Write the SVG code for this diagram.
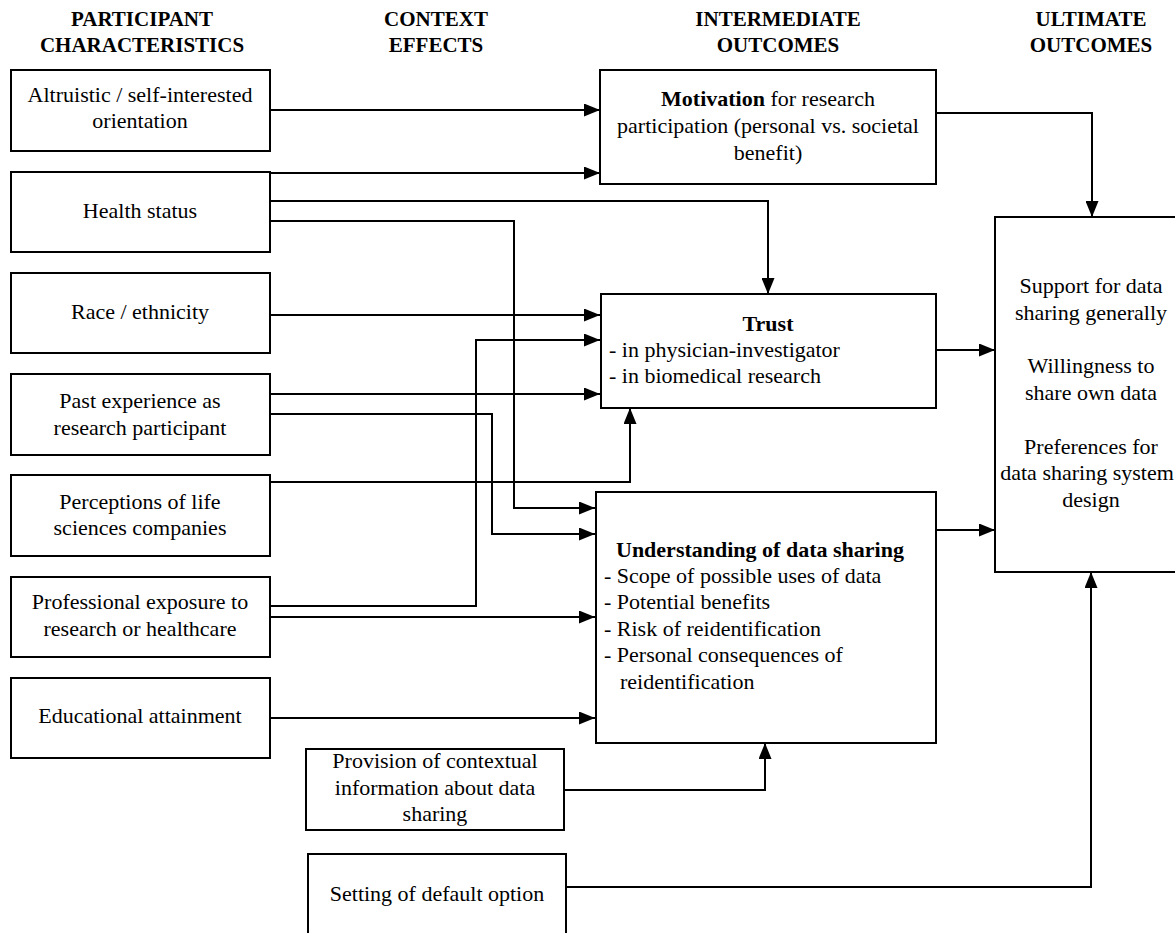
<svg xmlns="http://www.w3.org/2000/svg" width="1175" height="933" viewBox="0 0 1175 933">
<style>
text{font-family:"Liberation Serif","Times New Roman",serif;font-size:22px;fill:#000}
.h{font-weight:bold;font-size:21px;text-anchor:middle}
.c{text-anchor:middle}
.b{font-weight:bold}
rect{fill:#fff;stroke:#000;stroke-width:2}
#connectors path{fill:none;stroke:#000;stroke-width:2}
</style>
<defs>
<marker id="ah" markerUnits="userSpaceOnUse" markerWidth="16" markerHeight="13" refX="16" refY="6.5" orient="auto">
<path d="M0,0 L16,6.5 L0,13 z" fill="#000"/>
</marker>
</defs>
<rect x="0" y="0" width="1175" height="933" style="stroke:none;fill:#fff"/>
<g id="headers">
<text class="h" x="142" y="26">PARTICIPANT</text>
<text class="h" x="142" y="52">CHARACTERISTICS</text>
<text class="h" x="436" y="26">CONTEXT</text>
<text class="h" x="436" y="52">EFFECTS</text>
<text class="h" x="778" y="26">INTERMEDIATE</text>
<text class="h" x="778" y="52">OUTCOMES</text>
<text class="h" x="1091" y="26">ULTIMATE</text>
<text class="h" x="1091" y="52">OUTCOMES</text>
</g>
<g id="connectors">
<path d="M270,110 H600" marker-end="url(#ah)"/>
<path d="M270,173 H600" marker-end="url(#ah)"/>
<path d="M270,201 H768 V294" marker-end="url(#ah)"/>
<path d="M270,221 H514 V508 H595" marker-end="url(#ah)"/>
<path d="M270,315 H600" marker-end="url(#ah)"/>
<path d="M270,606 H476 V340 H600" marker-end="url(#ah)"/>
<path d="M270,394 H600" marker-end="url(#ah)"/>
<path d="M270,414 H492 V534 H595" marker-end="url(#ah)"/>
<path d="M270,482 H630 V408" marker-end="url(#ah)"/>
<path d="M270,617 H595" marker-end="url(#ah)"/>
<path d="M270,718 H595" marker-end="url(#ah)"/>
<path d="M564,790 H765 V743" marker-end="url(#ah)"/>
<path d="M566,887 H1091 V572" marker-end="url(#ah)"/>
<path d="M936,113 H1092 V217" marker-end="url(#ah)"/>
<path d="M936,350 H995" marker-end="url(#ah)"/>
<path d="M936,530 H995" marker-end="url(#ah)"/>
</g>
<g id="altruistic">
<rect x="11" y="70" width="259" height="81"/>
<text class="c" x="140" y="102">Altruistic / self-interested</text>
<text class="c" x="140" y="128">orientation</text>
</g>
<g id="health">
<rect x="11" y="172" width="259" height="80"/>
<text class="c" x="140" y="218">Health status</text>
</g>
<g id="race">
<rect x="11" y="273" width="259" height="80"/>
<text class="c" x="140" y="319">Race / ethnicity</text>
</g>
<g id="past">
<rect x="11" y="374" width="259" height="81"/>
<text class="c" x="140" y="408">Past experience as</text>
<text class="c" x="140" y="435">research participant</text>
</g>
<g id="perceptions">
<rect x="11" y="475" width="259" height="81"/>
<text class="c" x="140" y="509">Perceptions of life</text>
<text class="c" x="140" y="535">sciences companies</text>
</g>
<g id="professional">
<rect x="11" y="577" width="259" height="80"/>
<text class="c" x="140" y="609">Professional exposure to</text>
<text class="c" x="140" y="636">research or healthcare</text>
</g>
<g id="educational">
<rect x="11" y="678" width="259" height="80"/>
<text class="c" x="140" y="723">Educational attainment</text>
</g>
<g id="provision">
<rect x="306" y="749" width="258" height="81"/>
<text class="c" x="435" y="768">Provision of contextual</text>
<text class="c" x="435" y="795">information about data</text>
<text class="c" x="435" y="821">sharing</text>
</g>
<g id="default">
<rect x="308" y="854" width="258" height="95"/>
<text class="c" x="437" y="901">Setting of default option</text>
</g>
<g id="motivation">
<rect x="600" y="70" width="336" height="114"/>
<text class="c" x="768" y="106"><tspan class="b">Motivation</tspan> for research</text>
<text class="c" x="768" y="133">participation (personal vs. societal</text>
<text class="c" x="768" y="160">benefit)</text>
</g>
<g id="trust">
<rect x="601" y="294" width="335" height="114"/>
<text class="c b" x="768" y="331">Trust</text>
<text x="609" y="357">- in physician-investigator</text>
<text x="609" y="383">- in biomedical research</text>
</g>
<g id="understanding">
<rect x="596" y="492" width="340" height="251"/>
<text class="b" x="616" y="557">Understanding of data sharing</text>
<text x="604" y="583">- Scope of possible uses of data</text>
<text x="604" y="609">- Potential benefits</text>
<text x="604" y="636">- Risk of reidentification</text>
<text x="604" y="662">- Personal consequences of</text>
<text x="620" y="689">reidentification</text>
</g>
<g id="ultimate">
<rect x="995" y="217" width="200" height="355"/>
<text class="c" x="1091" y="293">Support for data</text>
<text class="c" x="1091" y="320">sharing generally</text>
<text class="c" x="1091" y="373">Willingness to</text>
<text class="c" x="1091" y="400">share own data</text>
<text class="c" x="1091" y="454">Preferences for</text>
<text class="c" x="1087" y="480">data sharing system</text>
<text class="c" x="1091" y="507">design</text>
</g>
</svg>
